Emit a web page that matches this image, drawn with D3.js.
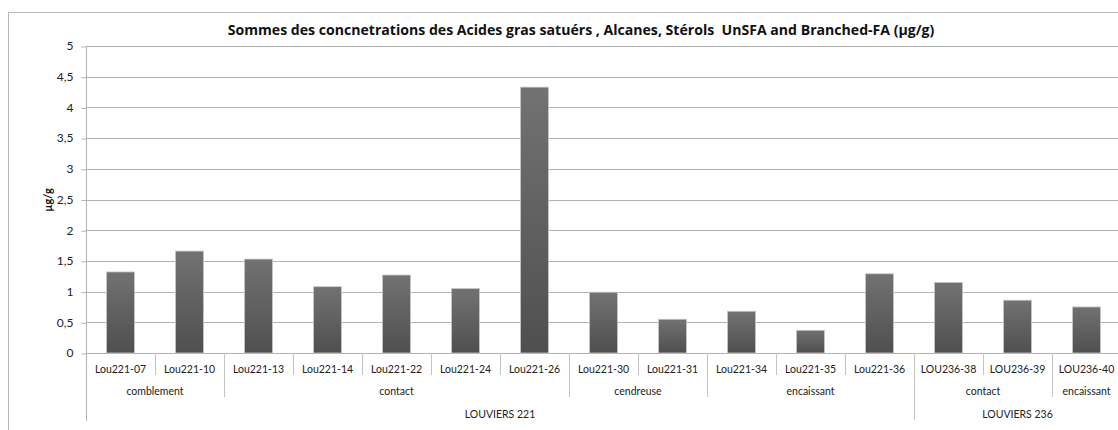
<!DOCTYPE html>
<html><head><meta charset="utf-8">
<script src="https://cdn.jsdelivr.net/npm/d3@7"></script>
<style>
body{margin:0;background:#fff;}
svg{display:block;font-family:Lato,"Open Sans",sans-serif;}
</style></head>
<body>
<svg id="c" width="1118" height="430"></svg>
<script>
const categories = ["Lou221-07","Lou221-10","Lou221-13","Lou221-14","Lou221-22","Lou221-24","Lou221-26","Lou221-30","Lou221-31","Lou221-34","Lou221-35","Lou221-36","LOU236-38","LOU236-39","LOU236-40"];
const values = [1.32,1.66,1.53,1.08,1.27,1.05,4.33,0.99,0.55,0.68,0.37,1.29,1.15,0.86,0.75];
const groups = [["comblement",2],["contact",5],["cendreuse",2],["encaissant",3],["contact",2],["encaissant",1]];
const sites = [["LOUVIERS 221",12],["LOUVIERS 236",3]];
const yTicks = [0,0.5,1,1.5,2,2.5,3,3.5,4,4.5,5];
const title = "Sommes des concnetrations des Acides gras satuérs , Alcanes, Stérols  UnSFA and Branched-FA (\u00b5g/g)";

const svg = d3.select("#c");
const L=86, R=1121, T=46, B=353;
const x = d3.scaleBand().domain(categories).range([L,R]).paddingInner(0).paddingOuter(0);
const y = d3.scaleLinear().domain([0,5]).range([B,T]);
const fmt = d => String(d).replace(".",",");

const defs = svg.append("defs");
const g = defs.append("linearGradient").attr("id","bg").attr("x1",0).attr("y1",0).attr("x2",0).attr("y2",1);
g.append("stop").attr("offset","0%").attr("stop-color","#727272");
g.append("stop").attr("offset","100%").attr("stop-color","#4f4f4f");

// outer frame
svg.append("rect").attr("x",8.5).attr("y",12.5).attr("width",1130).attr("height",440)
  .attr("fill","none").attr("stroke","#b8b8b8");

// gridlines
svg.append("g").selectAll("line").data(yTicks).join("line")
  .attr("x1",L).attr("x2",R).attr("y1",d=>Math.round(y(d))+0.5).attr("y2",d=>Math.round(y(d))+0.5)
  .attr("stroke","#b3b3b3");

// y axis
const ya = svg.append("g").attr("transform",`translate(${L+0.5},0)`)
  .call(d3.axisLeft(y).tickValues(yTicks).tickFormat(fmt).tickSize(5).tickPadding(8));
ya.select(".domain").remove();
ya.selectAll("line").attr("stroke","#b3b3b3").attr("transform","translate(0,0.5)");
ya.selectAll("text").attr("font-size",12).attr("fill","#222").attr("font-family","Lato,sans-serif");
svg.append("line").attr("x1",L+0.5).attr("x2",L+0.5).attr("y1",T).attr("y2",421).attr("stroke","#b3b3b3");

// bars
const bw = 28;
svg.append("g").selectAll("rect").data(values).join("rect")
  .attr("x",(d,i)=>x(categories[i])+x.bandwidth()/2-bw/2)
  .attr("width",bw)
  .attr("y",d=>y(d))
  .attr("height",d=>B-y(d))
  .attr("fill","url(#bg)").attr("stroke","#c8c8c8").attr("stroke-width",0.8);

// category axis
const xa = svg.append("g").attr("transform",`translate(0,${B+0.5})`)
  .call(d3.axisBottom(x).tickSize(0).tickPadding(12));
xa.select(".domain").remove();
xa.selectAll("text").attr("font-size",10.5).attr("fill","#222").attr("font-family","Lato,sans-serif");

// separators
const grpBounds = new Set(); let acc=0; groups.forEach(gg=>{acc+=gg[1]; grpBounds.add(acc);});
const siteBounds = new Set(); acc=0; sites.forEach(s=>{acc+=s[1]; siteBounds.add(acc);});
const seps = d3.range(1,categories.length);
svg.append("g").selectAll("line").data(seps).join("line")
  .attr("x1",i=>Math.round(x(categories[i]))+0.5).attr("x2",i=>Math.round(x(categories[i]))+0.5)
  .attr("y1",B).attr("y2",i=>siteBounds.has(i)?420:(grpBounds.has(i)?397:375))
  .attr("stroke","#c4c4c4");

// group labels
acc=0;
groups.forEach(([name,n])=>{
  const x0=x(categories[acc]), x1=x(categories[acc+n-1])+x.bandwidth();
  svg.append("text").attr("x",(x0+x1)/2).attr("y",395).attr("text-anchor","middle")
    .attr("font-size",10.5).attr("fill","#222").text(name);
  acc+=n;
});
acc=0;
sites.forEach(([name,n])=>{
  const x0=x(categories[acc]), x1=x(categories[acc+n-1])+x.bandwidth();
  svg.append("text").attr("x",(x0+x1)/2).attr("y",418).attr("text-anchor","middle")
    .attr("font-size",10.5).attr("fill","#222").text(name);
  acc+=n;
});

// title
svg.append("text").attr("x",581).attr("y",35).attr("text-anchor","middle")
  .attr("font-family","'Open Sans',sans-serif").style("white-space","pre")
  .attr("font-size",14.1).attr("font-weight","bold").attr("fill","#111").text(title);

// y label
svg.append("text").attr("transform","translate(52,200) rotate(-90)").attr("text-anchor","middle")
  .attr("font-size",11).attr("font-weight","bold").attr("fill","#111").text("\u00b5g/g");
</script>
</body></html>
